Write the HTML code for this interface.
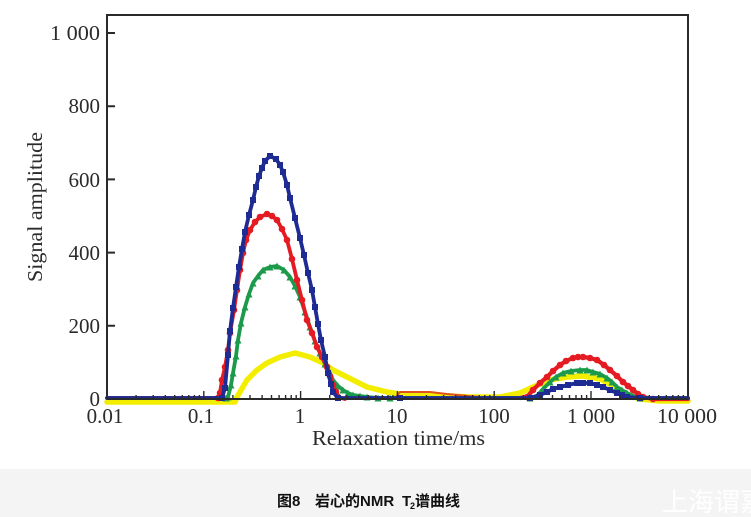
<!DOCTYPE html>
<html>
<head>
<meta charset="utf-8">
<style>
  html,body{margin:0;padding:0;background:#ffffff;}
  svg{display:block;}
</style>
</head>
<body>
<svg width="751" height="517" viewBox="0 0 751 517" xmlns="http://www.w3.org/2000/svg">
  <defs>
    <marker id="mb" markerWidth="6" markerHeight="6" refX="3" refY="3" markerUnits="userSpaceOnUse">
      <rect x="0" y="0" width="6" height="6" fill="#1d2b92"/>
    </marker>
    <marker id="mr" markerWidth="7" markerHeight="7" refX="3.5" refY="3.5" markerUnits="userSpaceOnUse">
      <circle cx="3.5" cy="3.5" r="3.3" fill="#e41b22"/>
    </marker>
    <marker id="mg" markerWidth="7" markerHeight="7" refX="3.5" refY="3.5" markerUnits="userSpaceOnUse">
      <polygon points="3.5,0 7,7 0,7" fill="#1c9a4b"/>
    </marker>
  </defs>

  <rect x="0" y="0" width="751" height="517" fill="#ffffff"/>
  <!-- caption band -->
  <rect x="0" y="469" width="751" height="48" fill="#f4f4f4"/>

  <!-- frame -->
  <rect x="107" y="15" width="581" height="384" fill="none" stroke="#2a2a2a" stroke-width="2"/>

  <!-- series -->
  <g fill="none" stroke-linejoin="round" stroke-linecap="round">
    <polyline stroke="#f3ee00" stroke-width="5.5"
      points="107,402 235,402 237,397 247,380 257,370 267,363 280,357 295,353 310,357 323,363 333,370 347,377 367,387 387,392 400,394 430,395 470,397 500,397 520,393 533,387 550,380 567,377 583,376 600,379 617,388 627,395 640,399 660,401 688,401"/>
    <polyline stroke="#1c9a4b" stroke-width="3.8" marker-mid="url(#mg)"
      points="107,398 226,398 228,397 231,385 233,373 236,356 238,340 241,323 245,307 249,294 253,283 258,276 263,270 270,267 277,266 284,270 290,277 295,286 300,297 305,312 310,327 315,341 320,353 325,364 330,373 333,380 338,386 343,390 348,393 353,395 360,396 367,397 378,398 390,398 530,398 537,396 543,389 550,382 556,377 563,373 571,371 580,370 587,370 593,372 600,374 607,378 612,382 617,387 622,390 627,393 633,396 640,398 688,398"/>
    <polyline stroke="#e0501c" stroke-width="2"
      points="345,399 395,398 400,392 415,392 430,392 447,394 480,397 520,398"/>
    <polyline stroke="#e41b22" stroke-width="3.8" marker-mid="url(#mr)"
      points="107,398 218,398 220,393 222,380 225,367 228,350 230,333 234,310 237,290 240,270 243,253 246,240 250,230 255,222 260,217 267,214 272,216 277,220 282,229 287,240 292,259 297,280 302,300 307,320 312,333 317,347 322,357 327,367 330,376 333,385 336,392 338,397 345,399"/>
    <polyline stroke="#e41b22" stroke-width="4.2" marker-mid="url(#mr)"
      points="520,398 527,397 533,390 540,383 547,377 553,371 560,365 566,361 573,358 578,357 583,357 590,358 597,360 604,365 610,370 617,376 623,382 628,386 633,390 638,394 643,397 653,399 688,399"/>
    <polyline stroke="#1d2b92" stroke-width="3.8" marker-mid="url(#mb)"
      points="107,398 222,398 225,388 228,355 230,331 233,308 236,287 239,267 242,249 245,232 249,215 253,200 256,187 259,176 262,168 265,161 270,156 276,159 280,165 283,172 287,185 290,198 295,218 300,238 304,255 308,273 312,290 315,307 318,324 321,340 325,357 328,373 331,384 333,392 338,398 400,398 530,398 540,395 547,392 553,389 560,387 568,385 577,383 583,383 590,383 597,385 603,387 610,390 617,393 622,395 627,397 640,398 688,398"/>
  </g>

  <!-- bottom axis line on top -->
  <line x1="107" y1="399" x2="688" y2="399" stroke="#2a2a2a" stroke-width="2"/>

  <!-- x ticks -->
  <path fill="none" stroke="#2a2a2a" stroke-width="1.4" d="
    M107 399 v-8 M203.8 399 v-8 M300.6 399 v-8 M397.4 399 v-8 M494.2 399 v-8 M591 399 v-8 M687.8 399 v-8
    M136.1 399 v-4 M153.2 399 v-4 M165.3 399 v-4 M174.7 399 v-4 M182.3 399 v-4 M188.8 399 v-4 M194.4 399 v-4 M199.4 399 v-4
    M232.9 399 v-4 M250 399 v-4 M262.1 399 v-4 M271.5 399 v-4 M279.1 399 v-4 M285.6 399 v-4 M291.2 399 v-4 M296.2 399 v-4
    M329.7 399 v-4 M346.8 399 v-4 M358.9 399 v-4 M368.3 399 v-4 M375.9 399 v-4 M382.4 399 v-4 M388 399 v-4 M393 399 v-4
    M426.5 399 v-4 M443.6 399 v-4 M455.7 399 v-4 M465.1 399 v-4 M472.7 399 v-4 M479.2 399 v-4 M484.8 399 v-4 M489.8 399 v-4
    M523.3 399 v-4 M540.4 399 v-4 M552.5 399 v-4 M561.9 399 v-4 M569.5 399 v-4 M576 399 v-4 M581.6 399 v-4 M586.6 399 v-4
    M620.1 399 v-4 M637.2 399 v-4 M649.3 399 v-4 M658.7 399 v-4 M666.3 399 v-4 M672.8 399 v-4 M678.4 399 v-4 M683.4 399 v-4
  "/>

  <!-- y ticks -->
  <path fill="none" stroke="#2a2a2a" stroke-width="2" d="
    M107 33 h8 M107 106.2 h8 M107 179.4 h8 M107 252.6 h8 M107 325.8 h8
  "/>

  <!-- y tick labels -->
  <g font-family="'Liberation Serif', serif" font-size="21" fill="#2b2b2b" text-anchor="end">
    <text x="100" y="40" textLength="50" lengthAdjust="spacingAndGlyphs">1 000</text>
    <text x="100" y="113">800</text>
    <text x="100" y="187">600</text>
    <text x="100" y="260">400</text>
    <text x="100" y="333">200</text>
    <text x="100" y="406">0</text>
  </g>

  <!-- x tick labels -->
  <g font-family="'Liberation Serif', serif" font-size="21" fill="#2b2b2b" text-anchor="middle">
    <text x="105" y="423">0.01</text>
    <text x="201" y="423">0.1</text>
    <text x="300" y="423">1</text>
    <text x="397" y="423">10</text>
    <text x="494" y="423">100</text>
    <text x="591" y="423" textLength="48" lengthAdjust="spacingAndGlyphs">1 000</text>
    <text x="687" y="423" textLength="60" lengthAdjust="spacingAndGlyphs">10 000</text>
  </g>

  <!-- axis titles -->
  <text x="312" y="445" font-family="'Liberation Serif', serif" font-size="21" fill="#2b2b2b" textLength="173" lengthAdjust="spacingAndGlyphs">Relaxation time/ms</text>
  <text transform="translate(42,207) rotate(-90)" x="0" y="0" text-anchor="middle" font-family="'Liberation Serif', serif" font-size="21" fill="#2b2b2b" textLength="150" lengthAdjust="spacingAndGlyphs">Signal amplitude</text>

  <!-- caption -->
  <g font-family="'Liberation Sans', 'Noto Sans CJK SC', sans-serif" font-weight="bold" fill="#111111">
    <text x="277" y="506" font-size="15">图8</text>
    <text x="315" y="506" font-size="15">岩心的NMR</text>
    <text x="402" y="506" font-size="15">T</text>
    <text x="410" y="509" font-size="9">2</text>
    <text x="415" y="506" font-size="15">谱曲线</text>
  </g>

  <!-- watermark -->
  <text x="662" y="511" font-family="'Noto Sans CJK SC', sans-serif" font-size="26" fill="#ffffff">上海谓嘉</text>
</svg>
</body>
</html>
